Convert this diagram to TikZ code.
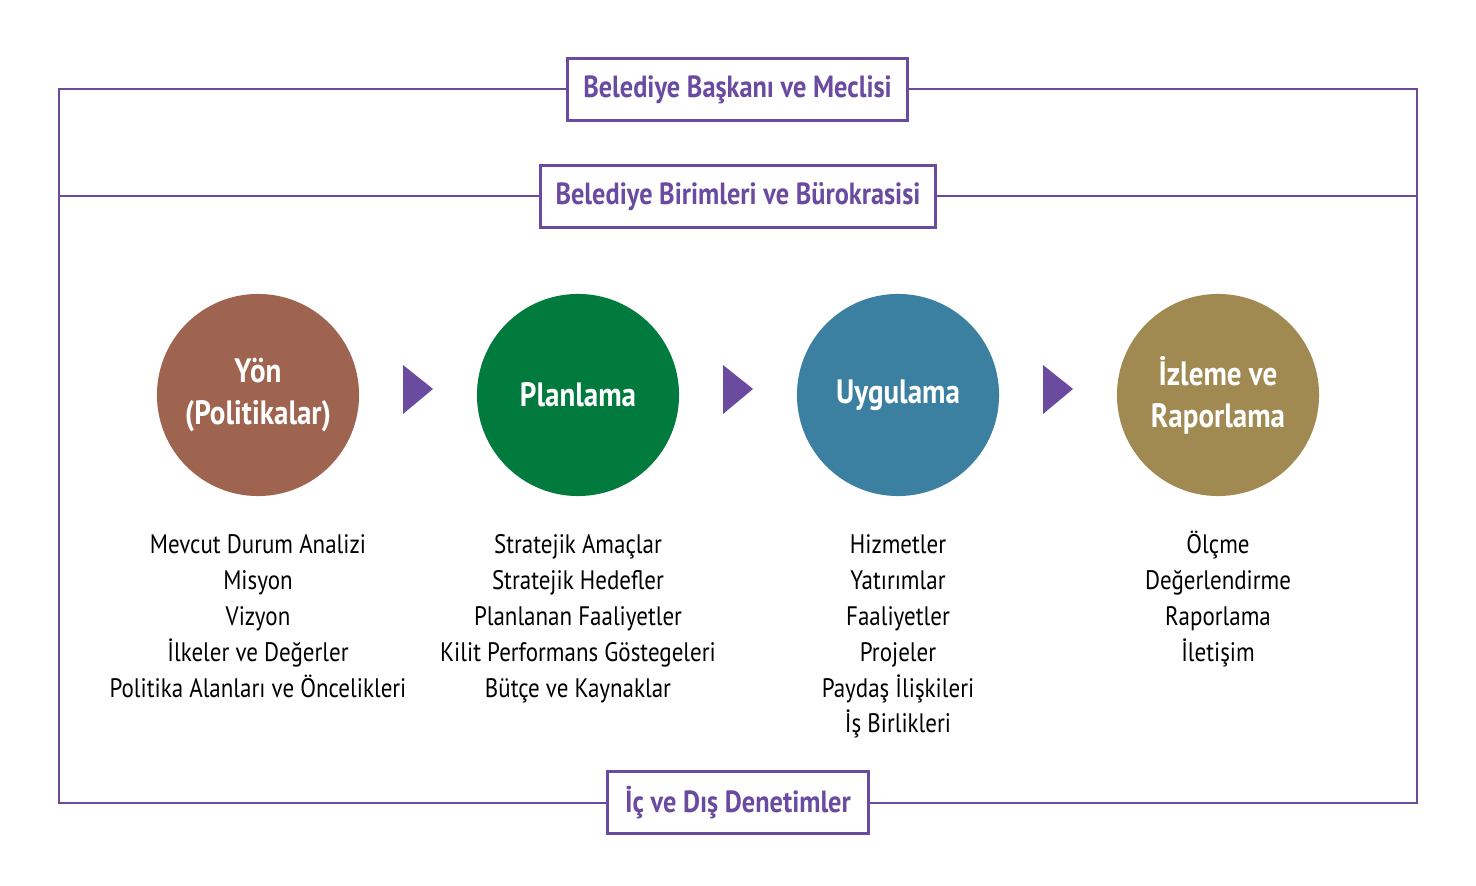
\documentclass[tikz,border=0pt]{standalone}
\usepackage{fontspec}
\setmainfont[FakeStretch=0.86]{PT Sans}
\usetikzlibrary{positioning}
\definecolor{mor}{HTML}{6A4BA0}
\definecolor{kahve}{HTML}{9E6450}
\definecolor{yesil}{HTML}{007A3D}
\definecolor{mavi}{HTML}{3B80A0}
\definecolor{zeytin}{HTML}{A08A52}
\tikzset{
  kutu/.style={draw=mor,line width=0.85pt,fill=white,text=mor,
    font=\bfseries\fontsize{8.7}{10}\selectfont,minimum height=0.61cm,inner sep=0pt},
  daire/.style={circle,minimum size=2.02cm,inner sep=0pt,text=white,align=center,
    font=\bfseries\fontsize{9.6}{12}\selectfont},
  liste/.style={anchor=base,inner sep=0pt,font=\fontsize{7.6}{9}\selectfont}
}
\begin{document}
\begin{tikzpicture}[x=0.01cm,y=-0.01cm]
\useasboundingbox (0,0) rectangle (1476,886);
\draw[mor,line width=0.75pt] (59,89) rectangle (1417,803);
\draw[mor,line width=0.75pt] (59,196)--(1417,196);

\node[kutu,minimum width=3.39cm] (baskan) at (737.5,89.5) {Belediye Başkanı ve Meclisi};
\node[kutu,minimum width=3.94cm] (birim) at (738,196.5) {Belediye Birimleri ve Bürokrasisi};
\node[kutu,minimum width=2.60cm] (denetim) at (738,802.5) {İç ve Dış Denetimler};

\node[daire,fill=kahve] (yon) at (258,395) {Yön\\(Politikalar)};
\node[daire,fill=yesil] (plan) at (578,395) {Planlama};
\node[daire,fill=mavi] (uygula) at (898,395) {Uygulama};
\node[daire,fill=zeytin] (izle) at (1218,395) {İzleme ve\\Raporlama};

\foreach \x in {0,320,640}{
\fill[mor] (403+\x,365)--(433+\x,389)--(403+\x,414)--cycle;
}

\foreach \s [count=\i] in {Mevcut Durum Analizi,Misyon,Vizyon,İlkeler ve Değerler,Politika Alanları ve Öncelikleri}{
\node[liste] (yon-\i) at (258,554+35.8*\i-35.8) {\s};
}
\foreach \s [count=\i] in {Stratejik Amaçlar,Stratejik Hedefler,Planlanan Faaliyetler,Kilit Performans Göstegeleri,Bütçe ve Kaynaklar}{
\node[liste] (plan-\i) at (578,554+35.8*\i-35.8) {\s};
}
\foreach \s [count=\i] in {Hizmetler,Yatırımlar,Faaliyetler,Projeler,Paydaş İlişkileri,İş Birlikleri}{
\node[liste] (uygula-\i) at (898,554+35.8*\i-35.8) {\s};
}
\foreach \s [count=\i] in {Ölçme,Değerlendirme,Raporlama,İletişim}{
\node[liste] (izle-\i) at (1218,554+35.8*\i-35.8) {\s};
}
\end{tikzpicture}
\end{document}
